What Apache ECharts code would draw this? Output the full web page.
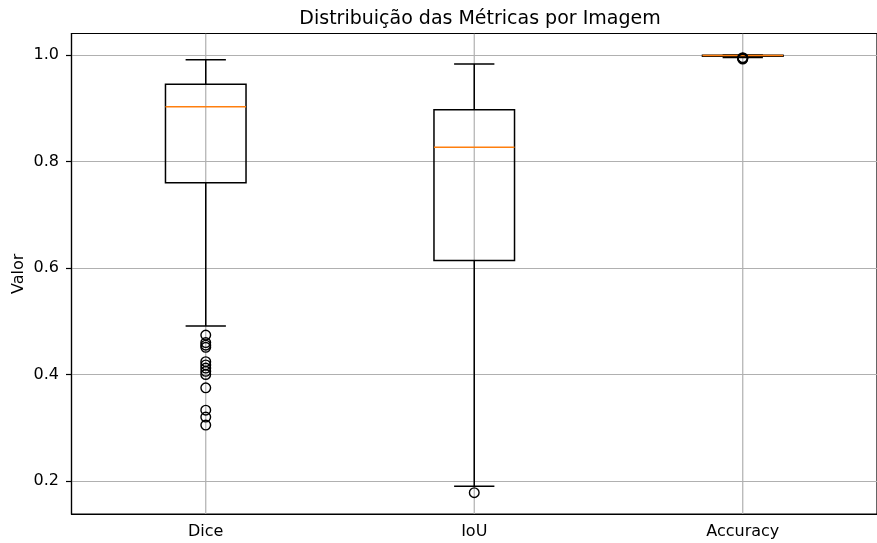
<!DOCTYPE html>
<html>
<head>
<meta charset="utf-8">
<script src="https://cdn.jsdelivr.net/npm/echarts@6/dist/echarts.min.js"></script>
<style>
  html, body { margin: 0; padding: 0; background: #fff; }
  #chart { width: 877px; height: 543px; }
</style>
</head>
<body>
<div id="chart"></div>
<script>
// Metric names along the x axis
const categories = ['Dice', 'IoU', 'Accuracy'];

// Box statistics per metric: [lower whisker, Q1, median, Q3, upper whisker]
const diceStats = [0.491, 0.760, 0.903, 0.945, 0.991];
const iouStats = [0.190, 0.614, 0.827, 0.897, 0.983];
const accuracyStats = [0.9955, 0.9975, 0.9990, 0.9995, 1.0000];

// Points beyond the whiskers
const diceOutliers = [0.474, 0.460, 0.455, 0.451, 0.424, 0.418, 0.412, 0.406, 0.400, 0.375, 0.333, 0.320, 0.305];
const iouOutliers = [0.178];
const accuracyOutliers = [0.9925, 0.9935, 0.9940, 0.9950];

// Y axis tick labels
const yTicks = [0.2, 0.4, 0.6, 0.8, 1.0];

const statsList = [diceStats, iouStats, accuracyStats];
const outlierList = [diceOutliers, iouOutliers, accuracyOutliers];

const boxData = statsList.map((s, i) => [i].concat(s));
const outlierData = [];
outlierList.forEach((arr, i) => arr.forEach(v => outlierData.push([i, v])));

const FONT = 'DejaVu Sans';
const GRID_COLOR = '#b0b0b0';
const Y_MIN = 0.138;
const Y_MAX = 1.0404;

function renderBox(params, api) {
  const idx = api.value(0);
  const lo = api.coord([idx, api.value(1)]);
  const q1 = api.coord([idx, api.value(2)]);
  const med = api.coord([idx, api.value(3)]);
  const q3 = api.coord([idx, api.value(4)]);
  const hi = api.coord([idx, api.value(5)]);
  const band = api.size([1, 0])[0];
  const halfBox = band * 0.15;
  const halfCap = halfBox / 2;
  const x = lo[0];
  const black = { stroke: '#000', lineWidth: 1.5, fill: null };
  return {
    type: 'group',
    children: [
      { type: 'line', shape: { x1: x, y1: q1[1], x2: x, y2: lo[1] }, style: black },
      { type: 'line', shape: { x1: x, y1: q3[1], x2: x, y2: hi[1] }, style: black },
      { type: 'line', shape: { x1: x - halfCap, y1: lo[1], x2: x + halfCap, y2: lo[1] }, style: black },
      { type: 'line', shape: { x1: x - halfCap, y1: hi[1], x2: x + halfCap, y2: hi[1] }, style: black },
      { type: 'rect', shape: { x: x - halfBox, y: q3[1], width: halfBox * 2, height: q1[1] - q3[1] }, style: black },
      { type: 'line', shape: { x1: x - halfBox, y1: med[1], x2: x + halfBox, y2: med[1] }, style: { stroke: '#ff7f0e', lineWidth: 1.5 } }
    ]
  };
}

function renderVGrid(params, api) {
  const idx = api.value(0);
  const top = api.coord([idx, Y_MAX]);
  const bottom = api.coord([idx, Y_MIN]);
  return {
    type: 'line',
    shape: { x1: top[0], y1: top[1], x2: bottom[0], y2: bottom[1] },
    style: { stroke: GRID_COLOR, lineWidth: 1.2 }
  };
}

const chart = echarts.init(document.getElementById('chart'), null, { renderer: 'canvas' });
chart.setOption({
  animation: false,
  backgroundColor: '#fff',
  title: {
    text: 'Distribuição das Métricas por Imagem',
    left: 475,
    textAlign: 'center',
    top: 5,
    textStyle: { fontFamily: FONT, fontSize: 19, fontWeight: 'normal', color: '#000' }
  },
  grid: {
    left: 71.5, top: 33.5, width: 815, height: 480.5,
    show: true, borderColor: '#000', borderWidth: 1.2, backgroundColor: 'transparent'
  },
  xAxis: {
    type: 'category',
    data: categories,
    boundaryGap: true,
    axisLine: { lineStyle: { color: '#000', width: 1.2 } },
    axisTick: { alignWithLabel: true, length: 5.5, lineStyle: { color: '#000', width: 1.2 } },
    axisLabel: { margin: 10, fontFamily: FONT, fontSize: 16, color: '#000' },
    splitLine: { show: false }
  },
  yAxis: {
    type: 'value',
    min: Y_MIN,
    max: Y_MAX,
    name: 'Valor',
    nameLocation: 'middle',
    nameGap: 45,
    nameMoveOverlap: false,
    nameRotate: 90,
    nameTextStyle: { fontFamily: FONT, fontSize: 16, color: '#000' },
    axisLine: { show: true, lineStyle: { color: '#000', width: 1.2 } },
    axisTick: { show: true, length: 5.5, customValues: yTicks, lineStyle: { color: '#000', width: 1.2 } },
    axisLabel: {
      customValues: yTicks,
      margin: 12.5,
      fontFamily: FONT, fontSize: 16, color: '#000',
      formatter: v => v.toFixed(1)
    },
    splitLine: { show: true, lineStyle: { color: GRID_COLOR, width: 1.2 } }
  },
  series: [
    {
      type: 'custom',
      name: 'vgrid',
      silent: true,
      z: 1,
      renderItem: renderVGrid,
      data: categories.map((c, i) => [i]),
      clip: true
    },
    {
      type: 'custom',
      name: 'boxes',
      z: 3,
      renderItem: renderBox,
      encode: { x: 0, y: [1, 2, 3, 4, 5] },
      data: boxData
    },
    {
      type: 'scatter',
      name: 'outliers',
      z: 4,
      symbol: 'circle',
      symbolSize: 9.6,
      itemStyle: { color: 'rgba(0,0,0,0)', borderColor: '#000', borderWidth: 1.4, opacity: 1 },
      data: outlierData
    }
  ]
});
</script>
</body>
</html>
